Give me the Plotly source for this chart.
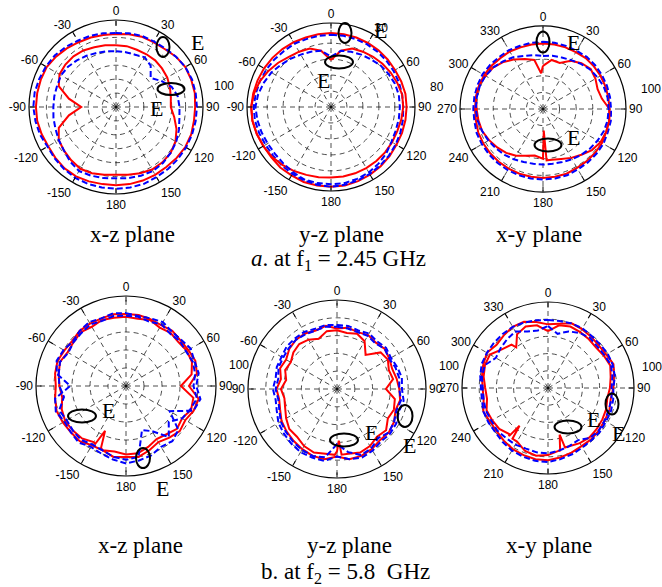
import plotly.graph_objects as go

W, H = 662, 587
THETA = list(range(0, 360, 10))
TICK_ANGLES = list(range(0, 360, 30))
LABELS_PM = ["0", "30", "60", "90", "120", "150", "180", "-150", "-120", "-90", "-60", "-30"]
LABELS_360 = ["0", "30", "60", "90", "120", "150", "180", "210", "240", "270", "300", "330"]

# ---------- data (normalised radius, outer circle = 1), sampled every 10 deg ----------
# a. f1 = 2.45 GHz, x-z plane
tl_red_outer = [0.84, 0.85, 0.86, 0.86, 0.87, 0.90, 0.92, 0.92, 0.92, 0.91, 0.91, 0.92, 0.92, 0.91, 0.90, 0.90, 0.90, 0.90,
                0.90, 0.90, 0.91, 0.92, 0.92, 0.91, 0.90, 0.91, 0.92, 0.92, 0.92, 0.92, 0.92, 0.90, 0.88, 0.86, 0.85, 0.84]
tl_blue_outer = [0.85, 0.86, 0.87, 0.87, 0.88, 0.90, 0.92, 0.93, 0.93, 0.93, 0.93, 0.93, 0.93, 0.93, 0.93, 0.93, 0.94, 0.94,
                 0.94, 0.94, 0.94, 0.94, 0.93, 0.92, 0.91, 0.93, 0.94, 0.95, 0.95, 0.94, 0.93, 0.92, 0.90, 0.88, 0.87, 0.86]
tl_red_inner = [0.71, 0.71, 0.70, 0.70, 0.70, 0.69, 0.68, 0.66, 0.64, 0.63, 0.68, 0.74, 0.79, 0.82, 0.83, 0.83, 0.81, 0.79,
                0.78, 0.79, 0.81, 0.82, 0.80, 0.78, 0.76, 0.70, 0.55, 0.40, 0.55, 0.70, 0.75, 0.76, 0.76, 0.75, 0.73, 0.72]
tl_blue_inner = [0.64, 0.64, 0.64, 0.66, 0.62, 0.52, 0.60, 0.68, 0.72, 0.73, 0.74, 0.77, 0.80, 0.82, 0.84, 0.85, 0.84, 0.83,
                 0.82, 0.83, 0.84, 0.85, 0.82, 0.78, 0.76, 0.74, 0.73, 0.72, 0.72, 0.72, 0.73, 0.72, 0.70, 0.68, 0.66, 0.65]
# a. y-z plane
tm_red_outer = [0.88, 0.88, 0.88, 0.88, 0.88, 0.88, 0.88, 0.89, 0.90, 0.90, 0.90, 0.90, 0.90, 0.91, 0.92, 0.93, 0.94, 0.95,
                0.95, 0.95, 0.95, 0.94, 0.94, 0.93, 0.93, 0.94, 0.95, 0.95, 0.94, 0.93, 0.92, 0.91, 0.90, 0.89, 0.88, 0.88]
tm_blue_outer = [0.86, 0.86, 0.86, 0.86, 0.86, 0.86, 0.86, 0.86, 0.86, 0.86, 0.87, 0.88, 0.89, 0.90, 0.91, 0.92, 0.93, 0.94,
                 0.95, 0.94, 0.93, 0.92, 0.91, 0.90, 0.90, 0.91, 0.92, 0.92, 0.91, 0.90, 0.89, 0.88, 0.87, 0.87, 0.86, 0.86]
tm_red_inner = [0.56, 0.68, 0.74, 0.76, 0.78, 0.80, 0.82, 0.84, 0.86, 0.86, 0.85, 0.84, 0.84, 0.84, 0.84, 0.84, 0.84, 0.84,
                0.84, 0.85, 0.86, 0.88, 0.90, 0.92, 0.93, 0.94, 0.95, 0.95, 0.93, 0.90, 0.86, 0.82, 0.78, 0.76, 0.74, 0.68]
tm_blue_inner = [0.60, 0.68, 0.70, 0.72, 0.74, 0.77, 0.79, 0.81, 0.82, 0.82, 0.82, 0.82, 0.83, 0.86, 0.88, 0.90, 0.91, 0.92,
                 0.92, 0.92, 0.92, 0.90, 0.88, 0.87, 0.87, 0.88, 0.89, 0.90, 0.88, 0.85, 0.82, 0.78, 0.75, 0.72, 0.70, 0.68]
# a. x-y plane
tr_red_outer = [0.79, 0.79, 0.79, 0.79, 0.80, 0.80, 0.80, 0.80, 0.80, 0.80, 0.81, 0.81, 0.82, 0.82, 0.82, 0.82, 0.83, 0.83,
                0.83, 0.83, 0.83, 0.83, 0.83, 0.83, 0.83, 0.83, 0.82, 0.82, 0.82, 0.82, 0.82, 0.81, 0.80, 0.80, 0.79, 0.79]
tr_blue_outer = [0.81, 0.81, 0.81, 0.81, 0.82, 0.82, 0.82, 0.82, 0.82, 0.82, 0.83, 0.83, 0.84, 0.84, 0.84, 0.84, 0.85, 0.85,
                 0.85, 0.85, 0.85, 0.85, 0.85, 0.85, 0.85, 0.85, 0.84, 0.84, 0.84, 0.84, 0.84, 0.83, 0.82, 0.82, 0.81, 0.81]
tr_red_inner = [0.52, 0.60, 0.59, 0.67, 0.72, 0.75, 0.73, 0.70, 0.72, 0.80, 0.81, 0.81, 0.80, 0.77, 0.72, 0.68, 0.64, 0.62,
                0.60, 0.57, 0.60, 0.65, 0.69, 0.72, 0.75, 0.78, 0.79, 0.80, 0.82, 0.82, 0.80, 0.78, 0.74, 0.69, 0.64, 0.60]
tr_red_inner_extra = [(357, 0.43), (176, 0.62), (178, 0.26)]
tr_blue_inner = [0.64, 0.65, 0.66, 0.68, 0.71, 0.74, 0.76, 0.78, 0.79, 0.79, 0.79, 0.78, 0.76, 0.74, 0.72, 0.70, 0.68, 0.67,
                 0.67, 0.67, 0.68, 0.70, 0.72, 0.74, 0.76, 0.78, 0.80, 0.81, 0.81, 0.81, 0.80, 0.78, 0.75, 0.72, 0.68, 0.66]

# b. f2 = 5.8 GHz, x-z plane
bl_red1 = [0.80, 0.80, 0.79, 0.78, 0.80, 0.79, 0.80, 0.82, 0.80, 0.70, 0.82, 0.80, 0.76, 0.78, 0.75, 0.72, 0.76, 0.80,
           0.79, 0.80, 0.76, 0.76, 0.80, 0.80, 0.81, 0.82, 0.80, 0.78, 0.80, 0.81, 0.79, 0.78, 0.80, 0.80, 0.80, 0.81]
bl_red2 = [0.77, 0.76, 0.78, 0.75, 0.77, 0.76, 0.78, 0.78, 0.74, 0.61, 0.76, 0.77, 0.72, 0.74, 0.70, 0.68, 0.72, 0.76,
           0.76, 0.74, 0.76, 0.72, 0.76, 0.77, 0.78, 0.76, 0.72, 0.74, 0.76, 0.78, 0.75, 0.76, 0.78, 0.76, 0.78, 0.77]
bl_red2_extra = [(202, 0.74), (205, 0.55), (208, 0.73)]
bl_blue1 = [0.81, 0.79, 0.80, 0.82, 0.79, 0.80, 0.83, 0.81, 0.82, 0.78, 0.84, 0.80, 0.56, 0.76, 0.80, 0.78, 0.82, 0.84,
            0.86, 0.83, 0.80, 0.78, 0.82, 0.80, 0.79, 0.83, 0.80, 0.62, 0.78, 0.82, 0.80, 0.77, 0.80, 0.82, 0.80, 0.82]
bl_blue2 = [0.78, 0.78, 0.76, 0.79, 0.76, 0.78, 0.77, 0.79, 0.78, 0.75, 0.80, 0.76, 0.72, 0.62, 0.74, 0.58, 0.52, 0.80,
            0.82, 0.80, 0.76, 0.75, 0.78, 0.77, 0.76, 0.79, 0.70, 0.74, 0.76, 0.78, 0.74, 0.76, 0.77, 0.79, 0.77, 0.79]
# b. y-z plane
bm_red1 = [0.68, 0.70, 0.68, 0.70, 0.68, 0.70, 0.68, 0.66, 0.68, 0.70, 0.72, 0.70, 0.74, 0.76, 0.75, 0.78, 0.80, 0.80,
           0.76, 0.80, 0.80, 0.78, 0.76, 0.74, 0.72, 0.68, 0.66, 0.68, 0.64, 0.68, 0.66, 0.70, 0.72, 0.72, 0.70, 0.72]
bm_red2 = [0.66, 0.64, 0.66, 0.62, 0.50, 0.64, 0.66, 0.62, 0.64, 0.55, 0.66, 0.68, 0.66, 0.72, 0.70, 0.74, 0.76, 0.74,
           0.70, 0.74, 0.76, 0.74, 0.70, 0.70, 0.66, 0.62, 0.60, 0.63, 0.58, 0.62, 0.60, 0.64, 0.66, 0.64, 0.60, 0.66]
bm_red2_extra = [(176, 0.74), (178, 0.58), (182, 0.74)]
bm_blue1 = [0.72, 0.72, 0.70, 0.72, 0.70, 0.72, 0.70, 0.72, 0.74, 0.73, 0.76, 0.74, 0.77, 0.78, 0.77, 0.80, 0.82, 0.80,
            0.76, 0.82, 0.82, 0.82, 0.80, 0.78, 0.76, 0.72, 0.70, 0.72, 0.70, 0.72, 0.72, 0.74, 0.74, 0.74, 0.72, 0.73]
bm_blue2 = [0.70, 0.69, 0.68, 0.69, 0.67, 0.70, 0.68, 0.70, 0.71, 0.70, 0.73, 0.71, 0.74, 0.76, 0.72, 0.77, 0.79, 0.72,
            0.62, 0.78, 0.80, 0.79, 0.77, 0.75, 0.73, 0.69, 0.67, 0.69, 0.67, 0.70, 0.70, 0.71, 0.72, 0.71, 0.70, 0.71]
# b. x-y plane
br_red1 = [0.74, 0.76, 0.80, 0.79, 0.78, 0.77, 0.78, 0.81, 0.78, 0.76, 0.74, 0.76, 0.76, 0.77, 0.78, 0.78, 0.80, 0.82,
           0.84, 0.84, 0.83, 0.82, 0.80, 0.78, 0.78, 0.80, 0.76, 0.76, 0.78, 0.80, 0.82, 0.78, 0.80, 0.82, 0.82, 0.78]
br_red2 = [0.66, 0.74, 0.76, 0.75, 0.74, 0.73, 0.75, 0.77, 0.74, 0.72, 0.70, 0.72, 0.73, 0.74, 0.75, 0.74, 0.72, 0.74,
           0.78, 0.80, 0.78, 0.72, 0.70, 0.74, 0.75, 0.76, 0.72, 0.73, 0.76, 0.78, 0.78, 0.70, 0.66, 0.72, 0.76, 0.74]
br_red2_extra = [(164, 0.72), (166, 0.56), (169, 0.74), (215, 0.72), (217, 0.55), (219, 0.72), (322, 0.60)]
br_blue1 = [0.79, 0.79, 0.80, 0.80, 0.79, 0.79, 0.80, 0.80, 0.79, 0.76, 0.77, 0.78, 0.78, 0.79, 0.79, 0.80, 0.82, 0.84,
            0.86, 0.86, 0.85, 0.84, 0.82, 0.80, 0.80, 0.80, 0.78, 0.78, 0.80, 0.82, 0.82, 0.82, 0.82, 0.82, 0.81, 0.80]
br_blue2 = [0.72, 0.64, 0.70, 0.74, 0.76, 0.75, 0.76, 0.78, 0.76, 0.74, 0.75, 0.75, 0.76, 0.77, 0.76, 0.70, 0.72, 0.74,
            0.76, 0.76, 0.75, 0.76, 0.76, 0.77, 0.76, 0.77, 0.76, 0.76, 0.78, 0.78, 0.70, 0.72, 0.74, 0.76, 0.70, 0.68]

RED, BLUE = "#ff0000", "#0000ff"

# ---------- subplot geometry (pixel centre, radius) ----------
PLOTS = [
    dict(cx=116, cy=107, R=87, grid=[0.16, 0.32, 0.48, 0.64, 0.80], labels=LABELS_PM,
         curves=[(tl_red_outer, [], RED), (tl_blue_outer, [], BLUE), (tl_red_inner, [], RED), (tl_blue_inner, [], BLUE)]),
    dict(cx=331, cy=107, R=84, grid=[0.19, 0.38, 0.57, 0.76], labels=LABELS_PM,
         curves=[(tm_red_outer, [], RED), (tm_blue_outer, [], BLUE), (tm_red_inner, [], RED), (tm_blue_inner, [], BLUE)]),
    dict(cx=543, cy=109, R=83, grid=[0.2, 0.4, 0.6, 0.8], labels=LABELS_360,
         curves=[(tr_red_outer, [], RED), (tr_blue_outer, [], BLUE), (tr_red_inner, tr_red_inner_extra, RED), (tr_blue_inner, [], BLUE)]),
    dict(cx=126, cy=386, R=90, grid=[0.2, 0.4, 0.6, 0.8], labels=LABELS_PM,
         curves=[(bl_red1, [], RED), (bl_red2, bl_red2_extra, RED), (bl_blue1, [], BLUE), (bl_blue2, [], BLUE)]),
    dict(cx=337, cy=389, R=89, grid=[0.2, 0.4, 0.6, 0.8], labels=LABELS_PM,
         curves=[(bm_red1, [], RED), (bm_red2, bm_red2_extra, RED), (bm_blue1, [], BLUE), (bm_blue2, [], BLUE)]),
    dict(cx=548, cy=388, R=86, grid=[0.2, 0.4, 0.6, 0.8], labels=LABELS_360,
         curves=[(br_red1, [], RED), (br_red2, br_red2_extra, RED), (br_blue1, [], BLUE), (br_blue2, [], BLUE)]),
]

# ellipse markers (cx, cy, w, h) and "E" labels (x, y) in pixels
ELLIPSES = [(163, 47, 13, 20), (171, 89, 27, 12), (345, 33, 13, 20), (339, 62, 28, 13),
            (543, 42, 13, 21), (548, 145, 27, 13), (82, 416, 28, 13), (143, 458, 14, 20),
            (344, 440, 28, 13), (405, 416, 15, 22), (568, 427, 27, 13), (612, 404, 13, 21)]
E_LABELS = [(197, 43), (156, 108), (380, 30), (323, 80), (573, 42), (573, 138),
            (108, 410), (162, 488), (371, 432), (410, 445), (593, 419), (618, 433)]
STRAY = [("100", 224, 86), ("80", 437, 87), ("100", 651, 89), ("100", 239, 365), ("100", 449, 366), ("100", 652, 367)]
CAPTIONS = [("x-z plane", 132, 234), ("y-z plane", 341, 234), ("x-y plane", 539, 234),
            ("<i>a</i>. at f<sub>1</sub> = 2.45 GHz", 338, 260),
            ("x-z plane", 140, 545), ("y-z plane", 349, 545), ("x-y plane", 549, 545),
            ("b. at f<sub>2</sub> = 5.8\u00a0 GHz", 345, 573)]


def px(x):
    return x / W


def py(y):
    return 1 - y / H


def merged(base, extra):
    pts = dict(zip(THETA, base))
    for a, r in extra:
        pts[a % 360] = r
    angs = sorted(pts)
    return [pts[a] for a in angs] + [pts[angs[0]]], angs + [angs[0] + 360]


fig = go.Figure()
layout = dict(width=W, height=H, margin=dict(l=0, r=0, t=0, b=0),
              paper_bgcolor="white", plot_bgcolor="white", showlegend=False,
              template="none")

for i, p in enumerate(PLOTS):
    key = "polar" if i == 0 else f"polar{i + 1}"
    cx, cy, R = p["cx"], p["cy"], p["R"]
    layout[key] = dict(
        domain=dict(x=[px(cx - R), px(cx + R)], y=[py(cy + R), py(cy - R)]),
        bgcolor="white",
        angularaxis=dict(rotation=90, direction="clockwise", tickmode="array",
                         tickvals=TICK_ANGLES, ticktext=p["labels"],
                         showline=True, linecolor="black", linewidth=1.2,
                         showgrid=True, gridcolor="black", gridwidth=0.7, griddash="5px,4px",
                         ticks="inside", ticklen=5, tickcolor="black", tickwidth=1,
                         tickfont=dict(family="Liberation Sans, Arial", size=12, color="black")),
        radialaxis=dict(range=[0, 1], tickmode="array", tickvals=p["grid"], showticklabels=False,
                        ticks="", showline=False, showgrid=True, gridcolor="black",
                        gridwidth=0.7, griddash="5px,4px"),
    )
    for base, extra, color in p["curves"]:
        r, th = merged(base, extra)
        fig.add_trace(go.Scatterpolar(
            r=r, theta=th, mode="lines", subplot=key, hoverinfo="skip",
            line=dict(color=color, width=2, dash="solid" if color == RED else "6px,3px")))

shapes = []
for (cx, cy, w, h) in ELLIPSES:
    shapes.append(dict(type="circle", xref="paper", yref="paper",
                       x0=px(cx - w / 2), x1=px(cx + w / 2), y0=py(cy + h / 2), y1=py(cy - h / 2),
                       line=dict(color="black", width=2)))

annotations = []
for (x, y) in E_LABELS:
    annotations.append(dict(text="E", x=px(x), y=py(y), xref="paper", yref="paper", showarrow=False,
                            xanchor="center", yanchor="middle",
                            font=dict(family="Liberation Serif", size=22, color="black")))
for (t, x, y) in STRAY:
    annotations.append(dict(text=t, x=px(x), y=py(y), xref="paper", yref="paper", showarrow=False,
                            xanchor="center", yanchor="middle",
                            font=dict(family="Liberation Sans, Arial", size=12, color="black")))
for (t, x, y) in CAPTIONS:
    annotations.append(dict(text=t, x=px(x), y=py(y), xref="paper", yref="paper", showarrow=False,
                            xanchor="center", yanchor="middle",
                            font=dict(family="Liberation Serif", size=23, color="black")))

layout["shapes"] = shapes
layout["annotations"] = annotations
fig.update_layout(**layout)
fig.write_html("out.html", config={"displayModeBar": False, "staticPlot": True},
               post_script="document.body.style.margin='0';document.body.style.padding='0';"
                           "document.body.style.overflow='hidden';")
